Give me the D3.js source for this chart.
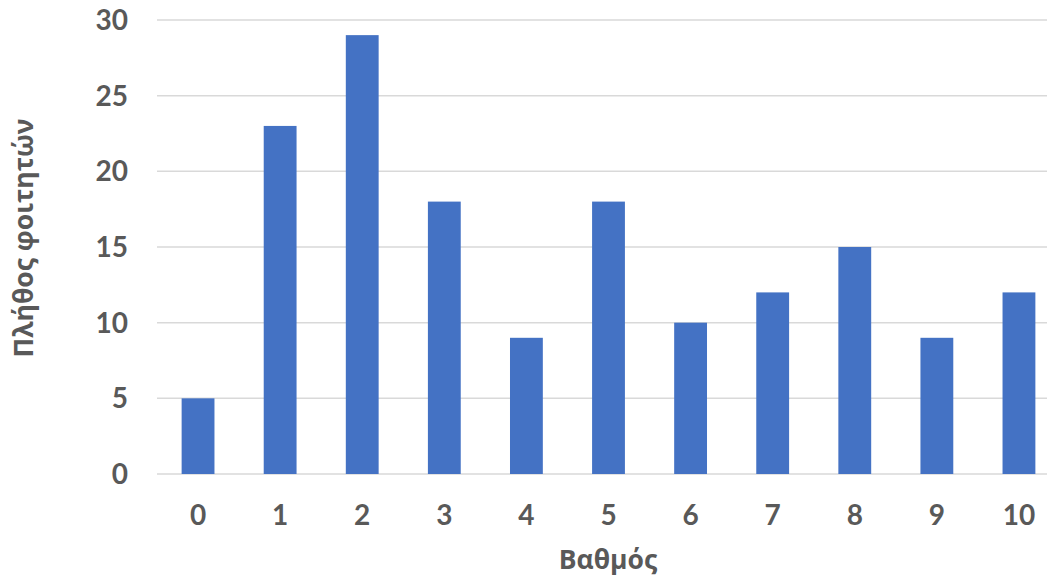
<!DOCTYPE html>
<html lang="el">
<head>
    <meta charset="UTF-8">
    <script src="https://d3js.org/d3.v7.min.js"></script>
    <style>
        body { margin: 0; background: #fff; }
        svg text { font-family: "Lato", "Open Sans", sans-serif; font-weight: bold; fill: #595959; }
        svg text.title { font-family: "Open Sans", sans-serif; }
    </style>
</head>
<body>
<div id="chart_area"></div>
<script>
    // data
    var grades = ["0", "1", "2", "3", "4", "5", "6", "7", "8", "9", "10"];
    var counts = [5, 23, 29, 18, 9, 18, 10, 12, 15, 9, 12];
    var yTicks = [0, 5, 10, 15, 20, 25, 30];

    var W = 1047, H = 581;
    var margin = { top: 20, left: 157, bottom: 107 };
    var plotRight = 1060;

    var svg = d3.select("#chart_area").append("svg")
        .attr("width", W).attr("height", H);

    var x = d3.scaleBand()
        .domain(grades)
        .range([margin.left, plotRight])
        .paddingInner(0.6)
        .paddingOuter(0.3);

    var y = d3.scaleLinear()
        .domain([0, 30])
        .range([H - margin.bottom, margin.top]);

    // gridlines
    svg.append("g").selectAll("line")
        .data(yTicks).enter().append("line")
        .attr("x1", margin.left).attr("x2", plotRight)
        .attr("y1", function(d) { return y(d); })
        .attr("y2", function(d) { return y(d); })
        .attr("stroke", "#d9d9d9")
        .attr("stroke-width", 1.5);

    // y tick labels
    svg.append("g").selectAll("text")
        .data(yTicks).enter().append("text")
        .attr("x", 128)
        .attr("y", function(d) { return y(d); })
        .attr("dy", "0.36em")
        .attr("text-anchor", "end")
        .style("font-size", "28px")
        .text(function(d) { return d; });

    // bars
    svg.append("g").selectAll("rect")
        .data(counts).enter().append("rect")
        .attr("x", function(d, i) { return x(grades[i]); })
        .attr("y", function(d) { return y(d); })
        .attr("width", x.bandwidth())
        .attr("height", function(d) { return y(0) - y(d); })
        .attr("fill", "#4472c4");

    // x tick labels
    svg.append("g").selectAll("text")
        .data(grades).enter().append("text")
        .attr("x", function(d) { return x(d) + x.bandwidth() / 2; })
        .attr("y", 525)
        .attr("text-anchor", "middle")
        .style("font-size", "28px")
        .text(function(d) { return d; });

    // axis titles
    svg.append("text")
        .attr("class", "title")
        .attr("x", 608).attr("y", 569)
        .attr("text-anchor", "middle")
        .style("font-size", "26.5px")
        .text("Βαθμός");

    svg.append("text")
        .attr("class", "title")
        .attr("transform", "translate(33,238) rotate(-90)")
        .attr("text-anchor", "middle")
        .style("font-size", "26.5px")
        .text("Πλήθος φοιτητών");
</script>
</body>
</html>
